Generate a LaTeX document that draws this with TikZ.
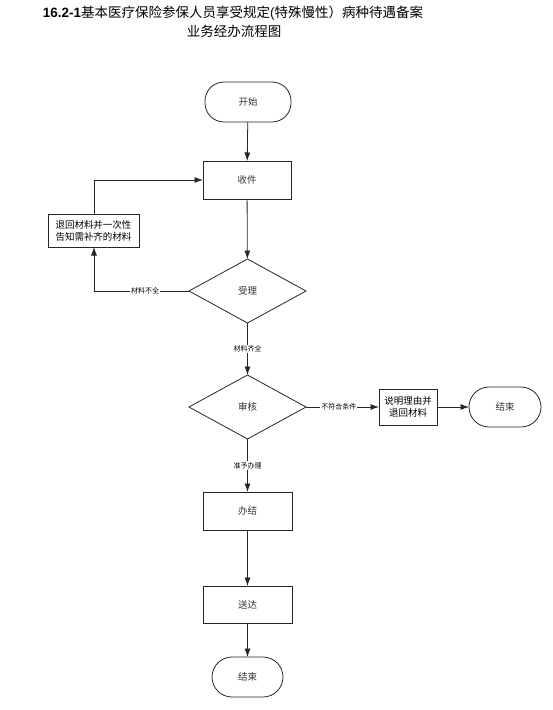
\documentclass[tikz,border=0pt]{standalone}
\usepackage{fontspec}
\setmainfont{Noto Sans CJK SC}
\newfontfamily\latinsans{Liberation Sans}
\usetikzlibrary{arrows.meta,shapes.geometric}
\begin{document}
\begin{tikzpicture}[x=1pt,y=-1pt,
  every node/.style={inner sep=0pt,outer sep=0pt},
  procbox/.style={draw=black!85,line width=0.8pt,minimum width=88pt,minimum height=38pt,font=\fontsize{9.5}{11}\selectfont,text=black!80},
  termnode/.style={draw=black!85,line width=0.8pt,rounded corners=19pt,minimum width=86pt,minimum height=40pt,font=\fontsize{9.5}{11}\selectfont,text=black!80},
  decision/.style={draw=black!85,line width=0.8pt,diamond,aspect=1.83,minimum width=117pt,minimum height=64pt,font=\fontsize{9.5}{11}\selectfont,text=black!80},
  conn/.style={draw=black!85,line width=0.8pt,-{Latex[length=8.5pt,width=6pt]}},
  lbl/.style={fill=white,inner sep=1pt,font=\fontsize{7}{8}\selectfont}
]
\useasboundingbox (0,0) rectangle (553,710);
\node (t1) at (233,13) {\fontsize{13.5}{15}\selectfont{\latinsans\bfseries 16.2-1}基本医疗保险参保人员享受规定{\latinsans (}特殊慢性）病种待遇备案};
\node (t2) at (234,31) {\fontsize{13.5}{15}\selectfont 业务经办流程图};

\node[termnode] (start) at (248,102) {开始};
\node[procbox] (recv) at (247,180) {收件};
\node[draw=black!85,line width=0.8pt,minimum width=91pt,minimum height=33pt,align=left,font=\fontsize{9.5}{12}\selectfont] (ret) at (93.5,230.5) {退回材料并一次性\\告知需补齐的材料};
\node[decision] (acc) at (247.5,291) {受理};
\node[decision] (rev) at (247.5,407) {审核};
\node[draw=black!85,line width=0.8pt,minimum width=58pt,minimum height=36pt,align=center,font=\fontsize{9.5}{12}\selectfont] (expl) at (408,407) {说明理由并\\退回材料};
\node[termnode,minimum width=72pt,rounded corners=20pt] (end1) at (505,407) {结束};
\node[procbox,minimum width=89pt] (done) at (247.5,511) {办结};
\node[procbox,minimum width=89pt,minimum height=37pt] (deliv) at (247.5,604.5) {送达};
\node[termnode,minimum width=71pt,rounded corners=20pt] (end2) at (247.5,677) {结束};

\coordinate (c1) at (94,180);
\coordinate (c2) at (94,291);

\draw[conn] (start) -- (recv);
\draw[conn] (recv) -- (acc);
\draw[conn] (ret.north -| c1) -- (c1) -- (recv.west);
\draw[conn] (acc.west) -- (c2) -- (ret.south -| c2);
\node[lbl] at (145,291) {材料不全};
\draw[conn] (acc.south) -- (rev.north) node[lbl,pos=0.5] {材料齐全};
\draw[conn] (rev.east) -- (expl.west) node[lbl,pos=0.45] {不符合条件};
\draw[conn] (expl.east) -- (end1.west);
\draw[conn] (rev.south) -- (done.north) node[lbl,pos=0.5] {准予办理};
\draw[conn] (done) -- (deliv);
\draw[conn] (deliv) -- (end2);
\end{tikzpicture}
\end{document}
